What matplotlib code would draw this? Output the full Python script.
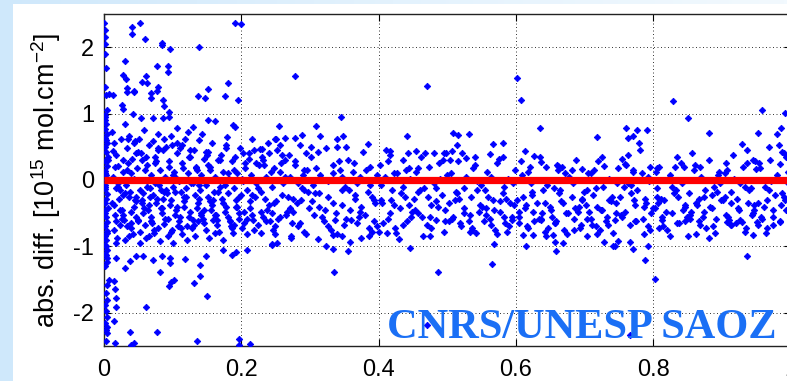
import numpy as np
import matplotlib
matplotlib.use('Agg')
import matplotlib.pyplot as plt
from matplotlib.patches import Rectangle
from matplotlib.colors import LinearSegmentedColormap

# ---------------- data ----------------
# dense vertical stripe at x ~ 0
stripe_x = [0.001,0.002,0.003,0.001,0.004,0.002,0.005,0.001,0.003,0.006,0.002,0.004,0.001,0.003,0.005,
            0.002,0.001,0.004,0.003,0.002,0.006,0.001,0.003,0.005,0.002,0.004,0.001,0.003,0.002,0.005,
            0.001,0.004,0.002,0.003,0.006,0.001,0.002,0.004,0.003,0.001]
stripe_y = [0.98,0.91,0.84,0.77,0.70,0.63,0.56,0.49,0.42,0.35,0.28,0.21,0.14,0.07,0.00,
            -0.07,-0.14,-0.21,-0.28,-0.35,-0.42,-0.49,-0.56,-0.63,-0.70,-0.77,-0.84,-0.91,-0.98,-1.05,
            -1.12,-1.18,0.95,0.60,0.30,-0.10,-0.45,-0.80,-1.00,0.10]

# dense cloud, 0.01 < x < 0.25
near_x = [.012,.015,.018,.021,.025,.028,.013,.017,.022,.026,.029,.014,.019,.023,.027,.011,.016,.020,.024,.028,.013,.018,
          .031,.034,.037,.041,.045,.048,.032,.036,.040,.044,.047,.033,.038,.042,.046,.049,.035,.039,.043,.031,.046,.040,
          .051,.054,.058,.062,.066,.069,.052,.056,.060,.064,.068,.053,.057,.061,.065,.069,.055,.059,.063,.067,.052,.060,
          .071,.074,.078,.082,.086,.089,.072,.076,.080,.084,.088,.073,.077,.081,.085,.089,.075,.079,.083,.087,.074,
          .091,.094,.098,.102,.106,.109,.092,.096,.100,.104,.108,.093,.097,.101,.105,.109,.095,.099,.103,.107,
          .111,.114,.118,.122,.126,.129,.112,.116,.120,.124,.128,.113,.117,.121,.125,.129,.115,.119,.123,
          .131,.134,.138,.142,.146,.149,.132,.136,.140,.144,.148,.133,.137,.141,.145,.135,.139,.143,
          .151,.154,.158,.162,.166,.169,.152,.156,.160,.164,.168,.153,.157,.161,.165,.155,.159,
          .171,.174,.178,.182,.186,.189,.172,.176,.180,.184,.188,.173,.177,.181,.185,.179,
          .191,.194,.198,.202,.206,.209,.192,.196,.200,.204,.208,.193,.197,.201,.205,
          .211,.214,.218,.222,.226,.229,.212,.216,.220,.224,.228,.213,.232,.236,.240,.244,.248,.234,.238,.242,.246,.231,.239,.247]
near_y = [.72,.55,.38,.21,.62,.30,.05,-.12,-.28,-.45,-.60,-.75,-.88,-.15,.12,-.35,-.52,-.05,-.68,-.22,.44,-.95,
          .85,.48,.66,.32,.58,.18,-.08,-.25,.10,-.40,-.55,-.70,-.18,-.82,-.32,-.62,.25,-.48,.02,-.90,.40,-.65,
          .62,.40,.75,.22,.52,.08,-.15,-.30,.00,-.45,-.62,-.78,-.20,-.88,-.38,-.55,.30,-.68,-.10,-.25,-.95,.15,
          .58,.35,.70,.15,.45,.05,-.22,-.35,-.08,-.50,-.66,-.80,-.28,-.92,-.42,-.58,.25,-.72,-.15,.62,-.05,
          .50,.28,.66,.12,.40,-.02,-.20,-.38,-.10,-.52,-.70,-.85,-.30,-.95,-.45,-.62,.20,-.75,-.18,.55,
          .48,.25,.62,.10,.35,-.05,-.18,-.40,-.12,-.55,-.72,-.82,-.32,-.90,-.48,-.60,.18,-.25,.72,
          .45,.20,.60,.08,.32,-.08,-.22,-.42,-.15,-.58,-.75,-.85,-.35,-.50,-.65,.15,-.28,.70,
          .42,.15,.55,.05,.30,-.10,-.25,-.45,-.18,-.60,-.78,-.88,-.38,-.52,-.68,.20,-.30,
          .38,.12,.52,.02,.28,-.12,-.28,-.48,-.20,-.62,-.80,-.90,-.40,-.55,-.70,.65,
          .35,.10,.48,-.02,.25,-.15,-.30,-.50,-.22,-.65,-.82,-.40,-.58,-.72,.18,
          .32,.08,.45,-.05,.22,-.18,-.32,-.52,-.25,-.68,-.80,-.42,.30,.05,.40,-.10,.18,-.28,-.45,-.62,-.75,-.55,.55,-.35]

# extra points filling the dense part of the cloud, 0.01 < x < 0.3
near2_x = [.014,.020,.026,.033,.039,.045,.050,.057,.063,.070,.076,.083,.090,.097,.104,.110,.117,.124,.131,.138,.145,
           .152,.159,.166,.173,.180,.187,.194,.201,.208,.215,.222,.229,.236,.243,.250,.257,.264,.271,.278,.285,.292,
           .016,.023,.030,.036,.043,.049,.055,.061,.067,.073,.079,.086,.093,.100,.107,.114,.121,.127,.134,.141,
           .148,.155,.162,.169,.176,.183,.190,.197,.204,.211,.218,.225,.233,.241,.249,.260,.268,.275,.283,.291,
           .018,.028,.035,.047,.058,.066,.078,.088,.099,.112,.125,.137,.150,.163,.177,.190,.203,.217,.230,.244]
near2_y = [-.38,-.10,-.58,.15,-.72,-.30,.42,-.50,-.02,-.65,.28,-.42,-.15,-.78,.05,-.55,-.25,.35,-.68,-.08,-.45,
           .22,-.60,-.18,-.35,.10,-.72,-.40,.02,-.58,-.22,.25,-.48,-.62,.12,-.32,-.55,.05,-.42,.28,-.65,-.15,
           .20,-.45,-.20,-.85,.55,-.60,-.35,.35,-.12,-.75,.48,-.28,-.58,.08,-.40,.52,-.70,-.05,.18,-.52,
           .42,-.32,-.80,.30,-.08,-.62,.15,-.25,-.48,.40,-.75,-.12,.22,-.38,-.70,.38,-.25,-.48,-.05,.15,
           -.62,-.52,.62,-.25,-.42,-.85,.45,-.18,.52,-.72,.45,-.62,.38,-.52,.48,-.68,.40,-.60,.35,-.50]

# dense cloud, 0.25 < x < 1
far_x = [.252,.256,.259,.263,.267,.271,.274,.278,.281,.285,.288,.292,.296,.299,.254,.261,.269,.276,.283,.290,.297,.258,.265,.272,.287,.294,
         .302,.305,.309,.313,.317,.320,.324,.327,.331,.334,.338,.342,.346,.349,.303,.311,.318,.326,.333,.340,.347,.307,.315,.322,.336,.344,
         .351,.355,.358,.362,.366,.369,.373,.377,.380,.384,.388,.391,.395,.398,.353,.360,.368,.375,.382,.390,.397,.357,.364,.371,.386,.393,
         .402,.405,.409,.413,.416,.420,.424,.427,.431,.435,.438,.442,.446,.449,.404,.411,.418,.425,.433,.440,.447,.407,.414,.422,.436,.444,
         .451,.455,.458,.462,.466,.470,.473,.477,.481,.484,.488,.492,.495,.499,.453,.460,.468,.475,.483,.490,.497,.457,.464,.472,.486,.494,
         .502,.505,.509,.513,.516,.520,.524,.527,.531,.535,.538,.542,.546,.549,.504,.511,.518,.525,.533,.540,.547,.507,.514,.522,.536,.544,
         .551,.555,.558,.562,.566,.570,.573,.577,.581,.584,.588,.592,.595,.599,.553,.560,.568,.575,.583,.590,.597,.557,.564,.572,.586,.594,
         .602,.605,.609,.613,.616,.620,.624,.627,.631,.635,.638,.642,.646,.649,.604,.611,.618,.625,.633,.640,.647,.607,.614,.622,.636,.644,
         .651,.655,.658,.662,.666,.670,.673,.677,.681,.684,.688,.692,.695,.699,.653,.660,.668,.675,.683,.690,.697,.657,.664,.672,.686,.694,
         .702,.705,.709,.713,.716,.720,.724,.727,.731,.735,.738,.742,.746,.749,.704,.711,.718,.725,.733,.740,.747,.707,.714,.722,.736,.744,
         .752,.755,.759,.763,.766,.770,.774,.777,.781,.785,.788,.792,.796,.799,.754,.761,.768,.775,.783,.790,.797,.757,.764,.772,.786,.794,
         .802,.805,.809,.813,.816,.820,.824,.827,.831,.835,.838,.842,.846,.849,.804,.811,.818,.825,.833,.840,.847,.807,.814,.822,.836,.844,
         .852,.855,.859,.863,.866,.870,.874,.877,.881,.885,.888,.892,.896,.899,.854,.861,.868,.875,.883,.890,.897,.857,.864,.872,.886,.894,
         .902,.905,.909,.913,.916,.920,.924,.927,.931,.935,.938,.942,.946,.949,.904,.911,.918,.925,.933,.940,.947,.907,.914,.922,.936,.944,
         .952,.955,.959,.963,.966,.970,.974,.977,.981,.985,.988,.992,.996,.999,.954,.961,.968,.975,.983,.990,.997,.957,.964,.972,.986,.994]
far_y = [.45,.12,-.22,.30,-.48,.05,-.65,.22,-.35,.52,-.12,-.78,.15,-.42,-.58,-.05,.38,-.28,-.70,.08,-.18,.25,-.52,-.85,-.30,.40,
         .35,-.08,.18,-.40,.02,-.62,.48,-.25,-.75,.10,-.50,.28,-.15,-.68,-.32,.42,-.55,-.02,.22,-.82,-.38,-.20,.08,-.45,-.60,.15,
         -.10,.30,-.45,.12,-.28,-.65,.05,.42,-.52,-.18,.20,-.78,-.35,.08,.50,-.60,-.05,-.40,.15,-.25,-.70,-.15,.25,-.55,-.85,-.30,
         .22,-.35,.05,-.58,.38,-.15,-.72,.10,-.42,.30,-.25,-.62,.02,-.48,-.08,.45,-.30,-.80,-.20,.15,-.55,-.65,.28,-.38,-.10,.18,
         -.28,.12,-.50,.35,-.12,-.68,.20,-.38,-.05,-.60,.25,-.22,-.78,.08,-.45,-.15,.40,-.55,-.32,.02,-.62,.18,-.85,-.25,-.40,.30,
         -.35,.10,-.55,-.18,.28,-.70,-.42,.05,-.62,-.25,.18,-.80,-.48,-.08,.30,-.30,-.65,-.12,-.52,.22,-.38,-.58,-.20,.40,-.72,-.02,
         -.40,-.15,.12,-.58,-.30,-.75,.25,-.48,-.20,-.65,.02,-.35,-.55,.15,-.62,-.25,-.45,.32,-.10,-.70,-.38,-.52,.05,-.82,-.28,-.60,
         -.30,-.55,.08,-.42,-.70,.20,-.18,-.62,-.35,.35,-.50,-.78,-.08,-.40,-.65,-.25,.12,-.48,-.58,-.15,-.72,.28,-.38,-.05,-.60,-.85,
         -.45,-.12,-.62,.15,-.32,-.75,-.50,.05,-.25,-.58,.30,-.40,-.68,-.18,-.55,.22,-.35,-.82,-.05,-.48,-.28,-.65,-.15,.10,-.42,-.72,
         -.38,.10,-.58,-.22,-.70,.28,-.45,-.10,-.62,.02,-.32,-.80,-.50,.18,-.15,-.68,-.40,.35,-.55,-.25,-.05,-.48,.15,-.75,-.30,-.60,
         -.25,.32,-.48,-.05,-.68,.15,-.38,-.15,.45,-.58,-.28,.05,-.75,-.42,-.55,.22,-.20,-.62,.10,-.35,-.50,-.10,.38,-.30,-.82,-.02,
         -.42,-.12,.20,-.60,-.30,-.75,.08,-.50,-.20,.35,-.65,-.05,-.38,-.55,.12,-.28,-.48,-.85,-.15,.25,-.62,-.35,-.70,.02,-.25,-.45,
         -.20,-.48,.15,-.35,-.62,.05,-.25,-.72,.30,-.42,-.10,-.58,.12,-.30,-.52,.22,-.68,-.15,-.40,-.80,-.05,.40,-.38,-.55,-.22,.08,
         -.30,.10,-.55,-.18,.38,-.65,-.42,-.05,.20,-.72,-.35,-.12,-.50,.28,-.25,-.60,.02,-.45,-.78,-.15,-.38,.15,-.68,-.28,.45,-.52,
         -.35,.18,-.58,-.10,-.72,.30,-.45,-.22,.08,-.62,.42,-.30,-.05,-.50,.25,-.40,-.15,-.68,.52,-.25,.12,-.55,-.80,-.02,-.38,.35]

# extra points filling the dense part below zero, 0.3 < x < 1
far2_x = [.306,.313,.327,.334,.347,.352,.366,.373,.388,.394,.404,.417,.423,.436,.444,.457,.463,.476,.484,.497,
          .503,.517,.524,.536,.543,.556,.564,.577,.583,.596,.604,.617,.623,.636,.643,.657,.663,.676,.684,.697,
          .703,.716,.726,.734,.746,.753,.767,.774,.787,.793,.806,.813,.827,.834,.846,.853,.866,.874,.887,.893,
          .906,.913,.926,.934,.947,.953,.966,.974,.987,.993]
far2_y = [-.52,-.20,-.70,-.35,.05,-.58,-.22,-.48,-.08,-.62,-.30,-.50,.10,-.68,-.38,-.18,-.55,-.72,-.12,-.45,
          -.62,-.28,-.50,-.75,-.15,-.42,-.68,-.32,-.55,-.05,-.48,-.72,-.22,-.58,-.35,-.65,-.20,-.50,-.75,-.30,
          -.58,-.12,-.45,-.68,-.35,-.52,-.08,-.62,-.40,-.70,-.25,-.55,-.10,-.65,-.40,-.58,-.28,-.48,-.70,-.18,
          -.52,-.35,-.60,-.10,-.45,-.68,-.30,-.55,-.20,-.45]

# isolated points above the cloud
upper_x = [0.000,0.001,0.002,0.001,0.002,0.003,0.002,0.003,0.004,
           0.041,0.041,0.053,0.060,0.085,0.085,0.096,0.138,0.191,0.199,
           0.031,0.077,0.093,0.093,0.027,0.032,0.061,0.055,0.062,
           0.033,0.033,0.043,0.044,0.079,0.077,0.068,0.068,0.151,0.137,0.147,0.180,0.176,0.195,0.086,0.088,0.094,0.094,0.026,0.028,0.008,0.013,
           0.042,0.054,0.072,0.086,0.106,0.130,0.152,0.162,0.188,0.191,0.216,0.227,0.230,0.249,
           0.278,0.471,0.345,0.255,0.309,0.251,0.264,0.278,0.289,0.315,0.339,0.348,0.441,0.256,0.301,0.339,0.385,0.416,0.443,0.454,0.481,0.495,
           0.602,0.607,0.635,0.718,0.508,0.516,0.531,0.514,0.566,0.581,0.498,0.507,0.527,0.540,0.562,0.581,0.613,0.626,0.637,0.644,0.661,0.667,0.681,0.696,0.710,0.728,
           0.829,0.850,0.959,0.992,0.760,0.764,0.770,0.777,0.791,0.780,0.882,0.929,0.953,0.981,0.986,0.968,0.991,0.759,0.771,0.796,0.806,0.832,0.845,0.868,0.906,0.936,0.946,0.950,0.985]
upper_y = [2.36,2.26,2.15,2.05,1.90,1.68,1.40,1.28,1.05,
           2.30,2.20,2.36,2.12,2.07,2.04,1.97,2.00,2.37,2.35,
           1.79,1.71,1.71,1.63,1.58,1.52,1.56,1.48,1.46,
           1.38,1.33,1.34,1.33,1.40,1.34,1.31,1.24,1.37,1.27,1.23,1.46,1.27,1.20,1.20,1.12,1.02,0.95,1.13,1.07,1.30,1.28,
           0.99,0.93,0.94,0.93,0.79,0.80,0.90,0.89,0.83,0.80,0.62,0.46,0.46,0.61,
           1.56,1.42,0.95,0.81,0.81,0.62,0.64,0.64,0.68,0.66,0.62,0.66,0.66,0.53,0.49,0.50,0.54,0.43,0.40,0.43,0.40,0.40,
           1.54,1.21,0.79,0.65,0.71,0.68,0.69,0.52,0.54,0.56,0.40,0.44,0.33,0.35,0.39,0.35,0.43,0.36,0.27,0.19,0.21,0.20,0.15,0.17,0.11,0.21,
           1.19,0.93,1.06,1.01,0.79,0.64,0.66,0.75,0.75,0.56,0.71,0.54,0.71,0.69,0.79,0.49,0.40,0.24,0.12,0.19,0.18,0.19,0.19,0.19,0.25,0.25,0.30,0.16,0.24]

# isolated points below the cloud
lower_x = [0.003,0.004,0.002,0.005,0.003,0.004,0.002,0.003,0.004,0.002,0.005,0.003,0.004,0.003,
           0.008,0.015,0.016,0.018,0.018,0.015,0.016,
           0.018,0.038,0.031,0.047,0.057,0.071,0.084,0.096,0.096,0.081,0.097,0.094,0.102,0.118,0.131,0.140,0.140,0.149,0.150,
           0.061,0.038,0.077,0.043,0.040,0.136,0.197,0.196,0.212,0.186,0.192,0.174,0.208,0.244,
           0.335,0.487,0.471,0.356,0.333,0.323,
           0.446,0.475,0.429,0.375,0.358,0.346,0.334,0.312,0.294,0.272,0.252,0.244,0.249,0.400,0.412,0.386,
           0.565,0.659,0.615,0.568,0.742,0.657,0.669,0.611,0.625,0.654,0.703,0.718,0.728,0.587,0.533,
           0.803,0.788,0.936,0.766,0.744,0.749,0.766,0.770,0.793,0.851,0.863,0.882,0.946,0.929,0.951,0.808,0.914,0.907,0.985]
lower_y = [-1.13,-1.23,-1.30,-1.58,-1.70,-1.80,-1.88,-1.98,-2.06,-2.15,-2.21,-2.26,-2.31,-2.43,
           -1.50,-1.52,-1.64,-1.77,-1.91,-2.12,-2.45,
           -1.18,-1.22,-1.33,-1.15,-1.15,-1.20,-1.15,-1.17,-1.25,-1.38,-1.53,-1.59,-1.50,-1.19,-1.55,-1.28,-1.44,-1.14,-1.75,
           -1.91,-2.29,-2.29,-2.46,-2.48,-2.42,-2.39,-2.48,-2.47,-1.13,-1.09,-1.05,-1.05,-0.98,
           -1.38,-1.38,-2.18,-1.07,-1.04,-1.00,
           -1.02,-0.85,-0.89,-0.87,-0.93,-0.84,-0.83,-0.89,-0.82,-0.87,-0.95,-0.96,-0.82,-0.79,-0.80,-0.73,
           -1.27,-1.07,-1.00,-0.97,-0.99,-0.93,-0.95,-0.83,-0.83,-0.83,-0.85,-0.82,-0.93,-0.78,-0.78,
           -1.49,-1.20,-1.14,-2.33,-0.99,-0.92,-0.93,-1.04,-0.99,-0.84,-0.82,-0.87,-0.83,-0.64,-0.63,-0.72,-0.68,-0.63,-0.63]

zero_line_x = [0.0, 1.0]
zero_line_y = [0.0, 0.0]

x_ticks = [0, 0.2, 0.4, 0.6, 0.8, 1.0]
x_tick_labels = ['0', '0.2', '0.4', '0.6', '0.8', '1']
y_ticks = [-2, -1, 0, 1, 2]
y_tick_labels = ['-2', '-1', '0', '1', '2']
y_label = 'abs. diff. [10$^{15}$ mol.cm$^{-2}$]'
watermark = 'CNRS/UNESP SAOZ'

# ---------------- figure ----------------
plt.rcParams['font.family'] = ['Liberation Sans', 'DejaVu Sans']
plt.rcParams['mathtext.default'] = 'regular'

W, H = 787, 381
fig = plt.figure(figsize=(W / 100, H / 100), dpi=100)
fig.patch.set_facecolor('#d3ebfb')

bg = fig.add_axes([0, 0, 1, 1], zorder=-10)
cmap = LinearSegmentedColormap.from_list('bg', ['#cfe8fb', '#e3f2fd', '#f2f9fe'])
bg.imshow(np.linspace(0, 1, 256)[None, :], aspect='auto', cmap=cmap, extent=[0, 1, 0, 1])
bg.add_patch(Rectangle((13 / W, 0), 1, 377 / H, facecolor='white', edgecolor='none'))
bg.set_xlim(0, 1)
bg.set_ylim(0, 1)
bg.axis('off')

ax = fig.add_axes([104 / W, 35 / H, 686.5 / W, 332 / H])
ax.set_facecolor('white')

all_x = stripe_x + near_x + near2_x + far_x + far2_x + upper_x + lower_x
all_y = stripe_y + near_y + near2_y + far_y + far2_y + upper_y + lower_y
ax.plot(all_x, all_y, linestyle='none', marker='D', color='#0000ff',
        markersize=3.3, markeredgewidth=0.6, zorder=3)
ax.plot(zero_line_x, zero_line_y, color='#ff0000', linewidth=5.2,
        solid_capstyle='butt', zorder=4)

ax.set_xlim(0, 1)
ax.set_ylim(-2.5, 2.5)
ax.set_xticks(x_ticks)
ax.set_xticklabels(x_tick_labels)
ax.set_yticks(y_ticks)
ax.set_yticklabels(y_tick_labels)
ax.grid(True, linestyle=(0, (1, 2.6)), color='#333333', linewidth=0.7)
ax.set_axisbelow(True)
ax.tick_params(direction='in', length=5, width=0.8, top=True, right=True,
               labelsize=17, colors='black')
ax.tick_params(axis='x', pad=9)
ax.tick_params(axis='y', pad=7)
for s in ax.spines.values():
    s.set_color('#222222')
    s.set_linewidth(1.0)

ax.set_ylabel(y_label, fontsize=19.5, va='center')
ax.yaxis.set_label_coords(-0.0845, 0.5)

ax.text(0.412, -2.376, watermark, ha='left', va='baseline',
        fontsize=30.5, fontweight='bold', family='Liberation Serif',
        color='#1a6ff5', zorder=5)

fig.savefig('out.png', dpi=100, facecolor=fig.get_facecolor())
